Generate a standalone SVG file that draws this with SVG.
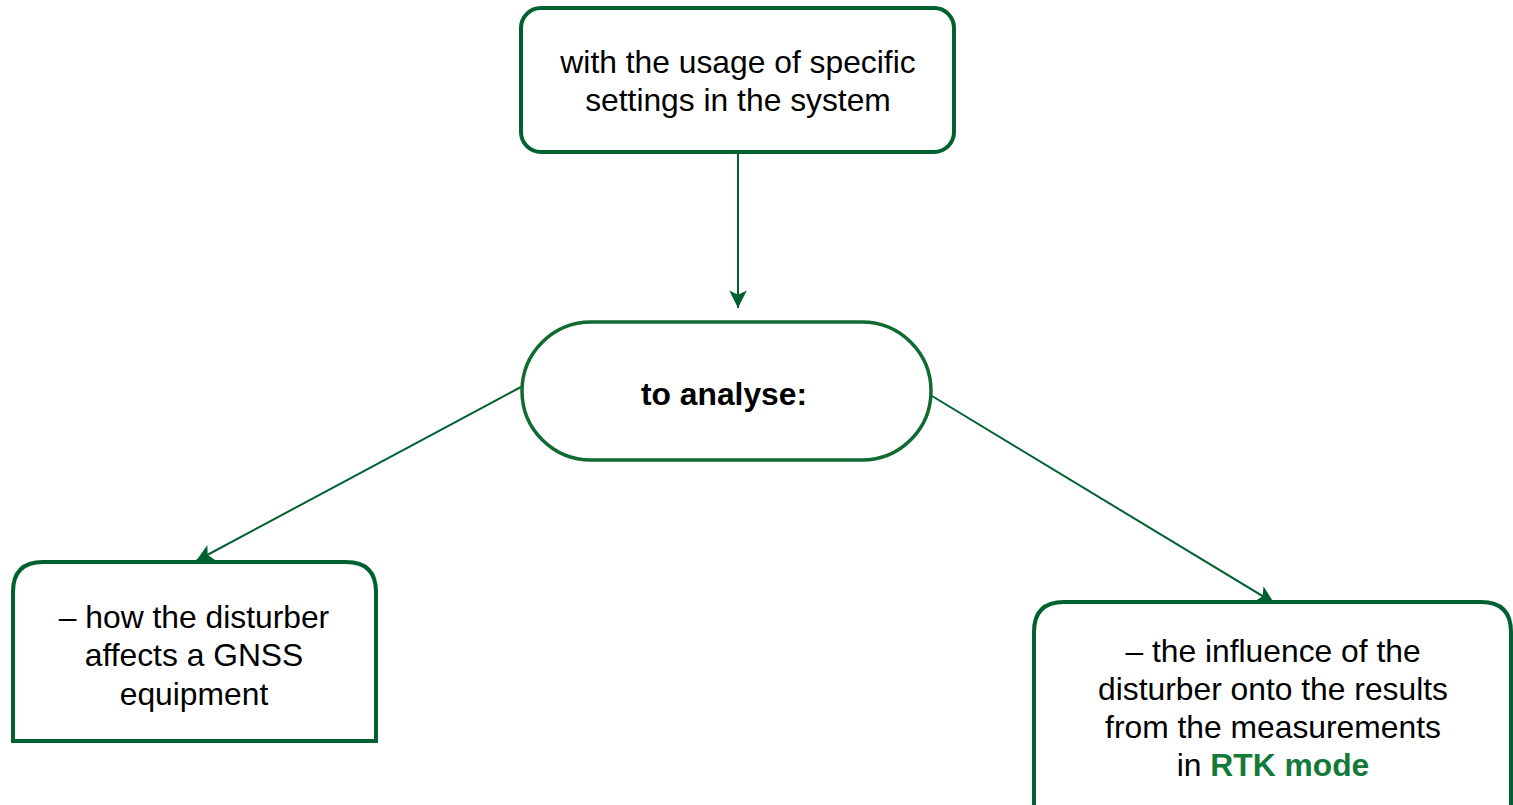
<svg xmlns="http://www.w3.org/2000/svg" width="1513" height="805" viewBox="0 0 1513 805">
<style>
.box{fill:#ffffff;stroke:#006130;stroke-width:4}
.pill{fill:#ffffff;stroke:#0f6b30;stroke-width:3.5}
.edge{stroke:#006130;stroke-width:2;fill:none}
text{font-family:"Liberation Sans",Arial,sans-serif;font-size:31.8px;fill:#000000;text-anchor:middle}
.b{font-weight:bold}
.g{fill:#137a3a;font-weight:bold}
</style>
<defs>
<marker id="arrL" viewBox="0 0 20 20" refX="18" refY="10" markerWidth="22" markerHeight="22" orient="auto" markerUnits="userSpaceOnUse">
<path d="M2,2 L18,10 L2,18 L6,10 Z" fill="#006130"/>
</marker>
</defs>
<g id="connectors">
<line class="edge" x1="738" y1="153" x2="738" y2="308" marker-end="url(#arrL)"/>
<line class="edge" x1="521" y1="387" x2="196" y2="561" marker-end="url(#arrL)"/>
<line class="edge" x1="932" y1="396" x2="1274" y2="603" marker-end="url(#arrL)"/>
</g>
<g id="node-settings">
<rect class="box" x="521" y="8" width="433" height="144" rx="20" ry="20"/>
<text x="738" y="73">with the usage of specific</text>
<text x="738" y="111">settings in the system</text>
</g>
<g id="node-analyse">
<rect class="pill" x="522" y="322" width="409" height="138" rx="69" ry="69"/>
<text class="b" x="724" y="405">to analyse:</text>
</g>
<g id="node-gnss">
<path class="box" d="M13,741 L13,592 Q13,562 43,562 L346,562 Q376,562 376,592 L376,741 Z"/>
<text x="194" y="628">– how the disturber</text>
<text x="194" y="666">affects a GNSS</text>
<text x="194" y="705">equipment</text>
</g>
<g id="node-rtk">
<path class="box" d="M1034,808 L1034,632 Q1034,602 1064,602 L1481,602 Q1511,602 1511,632 L1511,808"/>
<text x="1273" y="662">– the influence of the</text>
<text x="1273" y="700">disturber onto the results</text>
<text x="1273" y="738">from the measurements</text>
<text x="1273" y="776">in <tspan class="g">RTK mode</tspan></text>
</g>
</svg>
